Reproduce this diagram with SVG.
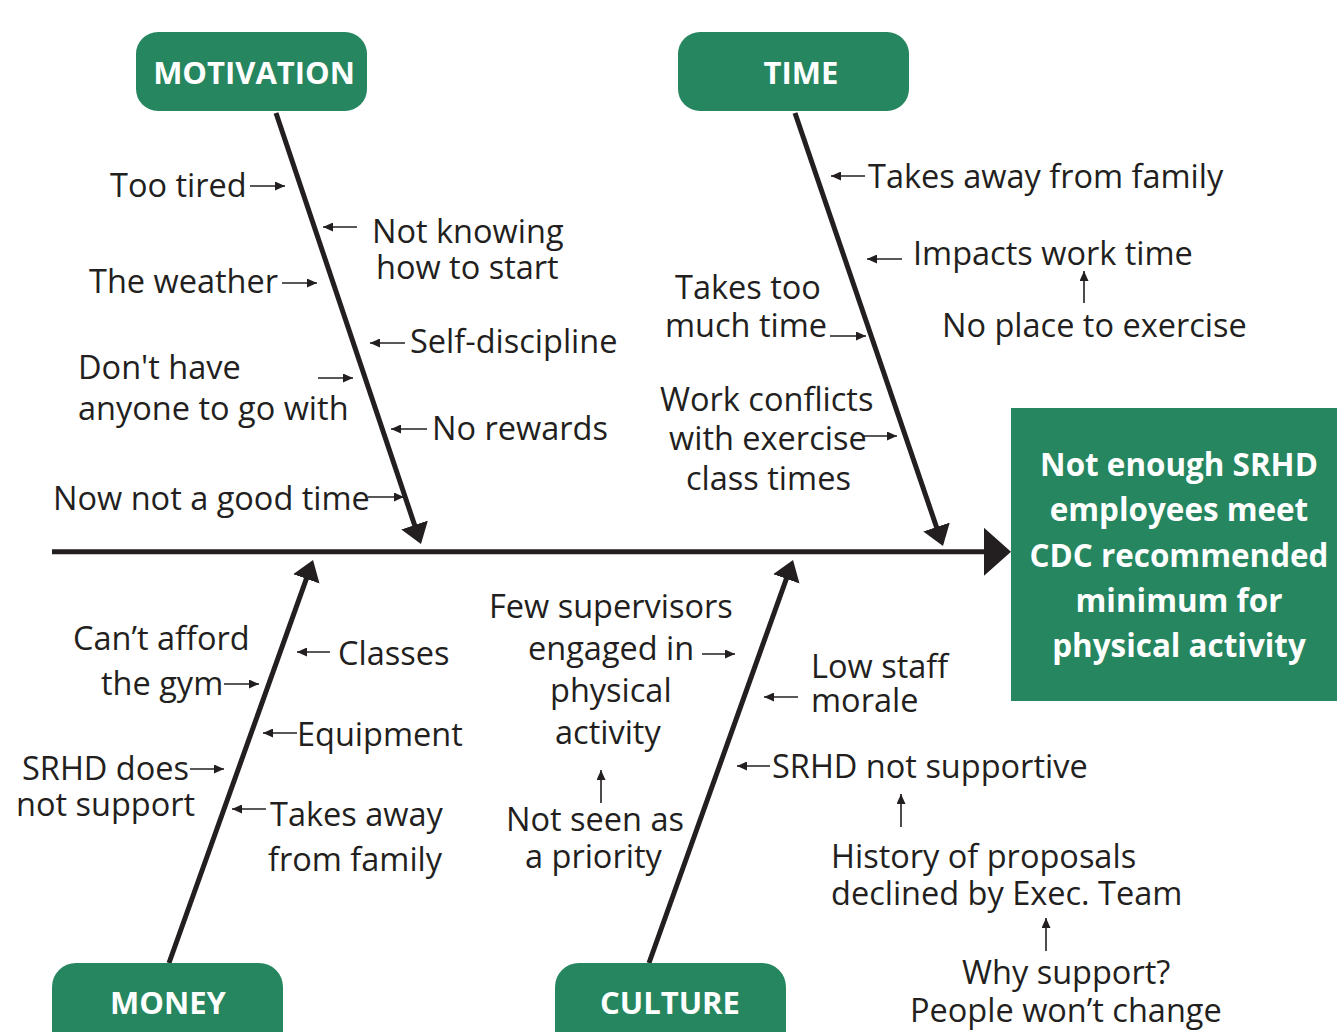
<svg xmlns="http://www.w3.org/2000/svg" width="1337" height="1032" viewBox="0 0 1337 1032">
  <style>
    .box { fill: #268660; }
    .head { font-family: "Open Sans", "Noto Sans", sans-serif; font-weight: bold; font-size: 31px; fill: #ffffff; text-anchor: middle; }
    .effect { font-family: "Open Sans", "Noto Sans", sans-serif; font-weight: bold; font-size: 31.4px; fill: #ffffff; text-anchor: middle; }
    .lbl { font-family: "Open Sans", "Noto Sans", sans-serif; font-size: 32.5px; fill: #231f20; }
    .bone { stroke: #231f20; stroke-width: 5; fill: none; marker-end: url(#bigHead); }
    .spine { stroke: #231f20; stroke-width: 5; fill: none; marker-end: url(#spineHead); }
    .tick { stroke: #231f20; stroke-width: 1.6; fill: none; marker-end: url(#smallHead); }
  </style>
  <defs>
    <marker id="bigHead" markerUnits="userSpaceOnUse" viewBox="0 -14 20 28" markerWidth="20" markerHeight="28" refX="16" refY="0" orient="auto">
      <path d="M0,-14 L20,0 L0,14 Z" fill="#231f20"/>
    </marker>
    <marker id="spineHead" markerUnits="userSpaceOnUse" viewBox="0 -24 27 48" markerWidth="27" markerHeight="48" refX="23" refY="0" orient="auto">
      <path d="M0,-24 L27,0 L0,24 Z" fill="#231f20"/>
    </marker>
    <marker id="smallHead" markerUnits="userSpaceOnUse" viewBox="0 -4.5 10 9" markerWidth="10" markerHeight="9" refX="10" refY="0" orient="auto">
      <path d="M0,-4.5 L10,0 L0,4.5 Z" fill="#231f20"/>
    </marker>
  </defs>

  <!-- spine, bones and the small cause arrows -->
  <g id="connectors">
    <line class="spine" x1="52" y1="551.8" x2="1007" y2="551.8"/>
    <line class="bone" x1="276" y1="113" x2="419.7" y2="540.2"/>
    <line class="bone" x1="795" y1="113" x2="941.7" y2="542.2"/>
    <line class="bone" x1="169" y1="963" x2="311.7" y2="563.8"/>
    <line class="bone" x1="649" y1="963" x2="791.7" y2="563.8"/>

    <!-- motivation causes -->
    <line class="tick" x1="250" y1="186" x2="285" y2="186"/>
    <line class="tick" x1="357" y1="227" x2="323" y2="227"/>
    <line class="tick" x1="282" y1="283" x2="317" y2="283"/>
    <line class="tick" x1="405" y1="343" x2="370" y2="343"/>
    <line class="tick" x1="318" y1="378" x2="353" y2="378"/>
    <line class="tick" x1="427" y1="429" x2="391" y2="429"/>
    <line class="tick" x1="368" y1="497" x2="404" y2="497"/>

    <!-- time causes -->
    <line class="tick" x1="865" y1="176" x2="831" y2="176"/>
    <line class="tick" x1="902" y1="259" x2="867" y2="259"/>
    <line class="tick" x1="1084" y1="303" x2="1084" y2="271"/>
    <line class="tick" x1="830" y1="336" x2="866" y2="336"/>
    <line class="tick" x1="862" y1="436" x2="897" y2="436"/>

    <!-- money causes -->
    <line class="tick" x1="224" y1="684" x2="259" y2="684"/>
    <line class="tick" x1="330" y1="652" x2="297" y2="652"/>
    <line class="tick" x1="297" y1="733" x2="263" y2="733"/>
    <line class="tick" x1="190" y1="769" x2="224" y2="769"/>
    <line class="tick" x1="266" y1="809" x2="232" y2="809"/>

    <!-- culture causes -->
    <line class="tick" x1="702" y1="654" x2="735" y2="654"/>
    <line class="tick" x1="601" y1="803" x2="601" y2="770"/>
    <line class="tick" x1="798" y1="697" x2="764" y2="697"/>
    <line class="tick" x1="770" y1="766" x2="737" y2="766"/>
    <line class="tick" x1="901" y1="827" x2="901" y2="794"/>
    <line class="tick" x1="1046" y1="951" x2="1046" y2="918"/>
  </g>

  <g id="motivation">
    <rect class="box" x="136" y="32" width="231" height="79" rx="22"/>
    <text class="head" x="254" y="84">MOTIVATION</text>
  </g>
  <g id="time">
    <rect class="box" x="678" y="32" width="231" height="79" rx="22"/>
    <text class="head" x="801" y="84">TIME</text>
  </g>
  <g id="money">
    <rect class="box" x="52" y="963" width="231" height="100" rx="24"/>
    <text class="head" x="168" y="1014">MONEY</text>
  </g>
  <g id="culture">
    <rect class="box" x="555" y="963" width="231" height="100" rx="24"/>
    <text class="head" x="670" y="1014">CULTURE</text>
  </g>

  <g id="effect">
    <rect class="box" x="1011" y="408" width="326" height="293"/>
    <text class="effect" x="1179" y="476">Not enough SRHD</text>
    <text class="effect" x="1179" y="521">employees meet</text>
    <text class="effect" x="1179" y="567">CDC recommended</text>
    <text class="effect" x="1179" y="612">minimum for</text>
    <text class="effect" x="1179" y="657">physical activity</text>
  </g>

  <g id="motivation-causes" class="lbl">
    <text x="110" y="197">Too tired</text>
    <text x="372" y="243">Not knowing</text>
    <text x="376" y="279">how to start</text>
    <text x="89" y="293">The weather</text>
    <text x="410" y="353">Self-discipline</text>
    <text x="78" y="379">Don't have</text>
    <text x="78" y="420">anyone to go with</text>
    <text x="432" y="440">No rewards</text>
    <text x="53" y="510">Now not a good time</text>
  </g>

  <g id="time-causes" class="lbl">
    <text x="868" y="188">Takes away from family</text>
    <text x="913" y="265">Impacts work time</text>
    <text x="942" y="337">No place to exercise</text>
    <text x="675" y="299">Takes too</text>
    <text x="665" y="337">much time</text>
    <text x="660" y="411">Work conflicts</text>
    <text x="669" y="450">with exercise</text>
    <text x="686" y="490">class times</text>
  </g>

  <g id="money-causes" class="lbl">
    <text x="73" y="650">Can’t afford</text>
    <text x="101" y="695">the gym</text>
    <text x="338" y="665">Classes</text>
    <text x="297" y="746">Equipment</text>
    <text x="22" y="780">SRHD does</text>
    <text x="16" y="816">not support</text>
    <text x="270" y="826">Takes away</text>
    <text x="268" y="871">from family</text>
  </g>

  <g id="culture-causes" class="lbl">
    <text x="489" y="618">Few supervisors</text>
    <text x="528" y="660">engaged in</text>
    <text x="550" y="702">physical</text>
    <text x="555" y="744">activity</text>
    <text x="506" y="831">Not seen as</text>
    <text x="525" y="868">a priority</text>
    <text x="811" y="678">Low staff</text>
    <text x="811" y="712">morale</text>
    <text x="772" y="778">SRHD not supportive</text>
    <text x="831" y="868">History of proposals</text>
    <text x="831" y="905">declined by Exec. Team</text>
    <text x="962" y="984">Why support?</text>
    <text x="910" y="1022">People won’t change</text>
  </g>
</svg>
